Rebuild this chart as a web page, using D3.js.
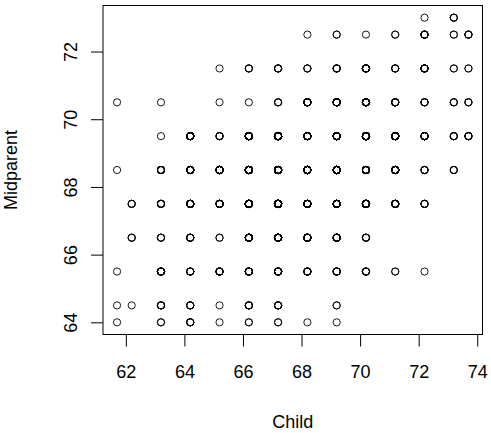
<html>

<head>
  <title>Galton child vs midparent</title>
  <style>
    body { margin: 0; background: #fff; }
    text { font-family: "Liberation Sans", Arial, sans-serif; }
  </style>
</head>

<body>
  <script src="https://d3js.org/d3.v7.min.js"></script>
  <script>
    // child height classes (columns) and midparent classes (rows)
    var childHeights = [61.7, 62.2, 63.2, 64.2, 65.2, 66.2, 67.2, 68.2, 69.2, 70.2, 71.2, 72.2, 73.2, 73.7];
    var parentHeights = [73.0, 72.5, 71.5, 70.5, 69.5, 68.5, 67.5, 66.5, 65.5, 64.5, 64.0];
    // number of families in each cell, one row per midparent class
    var counts = [
      [0, 0, 0, 0, 0, 0, 0, 0, 0, 0, 0, 1, 3, 0],
      [0, 0, 0, 0, 0, 0, 0, 1, 2, 1, 2, 7, 2, 4],
      [0, 0, 0, 0, 1, 3, 4, 3, 5, 10, 4, 9, 2, 2],
      [1, 0, 1, 0, 1, 1, 3, 12, 18, 14, 7, 4, 3, 3],
      [0, 0, 1, 16, 4, 17, 27, 20, 33, 25, 20, 11, 4, 5],
      [1, 0, 7, 11, 16, 25, 31, 34, 48, 21, 18, 4, 3, 0],
      [0, 3, 5, 14, 15, 36, 38, 28, 38, 19, 11, 4, 0, 0],
      [0, 3, 3, 5, 2, 17, 17, 14, 13, 4, 0, 0, 0, 0],
      [1, 0, 9, 5, 7, 11, 11, 7, 7, 5, 2, 1, 0, 0],
      [1, 1, 4, 4, 1, 5, 5, 0, 2, 0, 0, 0, 0, 0],
      [1, 0, 2, 4, 1, 2, 2, 1, 1, 0, 0, 0, 0, 0]
    ];
    var xTicks = [62, 64, 66, 68, 70, 72, 74];
    var yTicks = [64, 66, 68, 70, 72];

    var W = 491, H = 433;
    var pLeft = 103, pRight = 482.5, pTop = 5.5, pBottom = 334.5;

    var svg = d3.select("body")
      .append("svg")
      .attr("width", W)
      .attr("height", H);

    // R style 4% padding on each side
    var xr = d3.extent(childHeights), yr = d3.extent(parentHeights);
    var xp = (xr[1] - xr[0]) * 0.04, yp = (yr[1] - yr[0]) * 0.04;

    var x = d3.scaleLinear()
      .domain([xr[0] - xp, xr[1] + xp])
      .range([pLeft, pRight]);
    var y = d3.scaleLinear()
      .domain([yr[0] - yp, yr[1] + yp])
      .range([pBottom, pTop]);

    // one point per family, drawn on top of each other like R does
    var pts = [];
    parentHeights.forEach(function (p, i) {
      childHeights.forEach(function (c, j) {
        for (var k = 0; k < counts[i][j]; k++) pts.push({ child: c, parent: p });
      });
    });

    svg.selectAll(".pt")
      .data(pts)
      .enter()
      .append("circle")
      .attr("class", "pt")
      .attr("cx", function (d) { return x(d.child); })
      .attr("cy", function (d) { return y(d.parent); })
      .attr("r", 3.6)
      .attr("fill", "none")
      .attr("stroke", "#000")
      .attr("stroke-width", 0.9);

    svg.append("rect")
      .attr("x", pLeft)
      .attr("y", pTop)
      .attr("width", pRight - pLeft)
      .attr("height", pBottom - pTop)
      .attr("fill", "none")
      .attr("stroke", "#000")
      .attr("stroke-width", 1);

    var xAxis = d3.axisBottom(x)
      .tickValues(xTicks)
      .tickSize(12)
      .tickPadding(19)
      .tickFormat(d3.format("d"));
    var gx = svg.append("g")
      .attr("transform", "translate(0," + pBottom + ")")
      .call(xAxis);

    var yAxis = d3.axisLeft(y)
      .tickValues(yTicks)
      .tickSize(12)
      .tickFormat(d3.format("d"));
    var gy = svg.append("g")
      .attr("transform", "translate(" + pLeft + ",0)")
      .call(yAxis);

    [gx, gy].forEach(function (g) {
      g.select(".domain").remove();
      g.selectAll(".tick line").attr("stroke", "#000");
      g.selectAll(".tick text")
        .attr("fill", "#000")
        .style("font-size", "18px")
        .style("font-family", "Liberation Sans, Arial, sans-serif");
    });

    gy.selectAll(".tick text")
      .attr("x", null)
      .attr("dy", null)
      .attr("text-anchor", "middle")
      .attr("transform", "translate(-26,0) rotate(-90)");

    svg.append("text")
      .attr("x", (pLeft + pRight) / 2)
      .attr("y", 428)
      .attr("text-anchor", "middle")
      .style("font-size", "18px")
      .text("Child");

    svg.append("text")
      .attr("transform", "translate(17," + ((pTop + pBottom) / 2) + ") rotate(-90)")
      .attr("text-anchor", "middle")
      .style("font-size", "18px")
      .text("Midparent");
  </script>
</body>

</html>
